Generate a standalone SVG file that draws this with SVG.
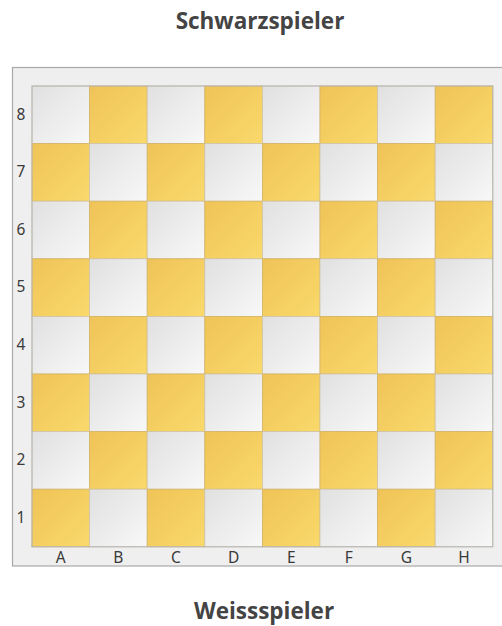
<svg xmlns="http://www.w3.org/2000/svg" width="502" height="626" viewBox="0 0 502 626">
<defs>
<linearGradient id="gl" x1="0" y1="0" x2="1" y2="1"><stop offset="0" stop-color="#e0e0e0"/><stop offset="1" stop-color="#f8f8f8"/></linearGradient>
<linearGradient id="gd" x1="0" y1="0" x2="1" y2="1"><stop offset="0" stop-color="#efc357"/><stop offset="1" stop-color="#fad96b"/></linearGradient>
</defs>
<style>
.t{font-family:"Open Sans","Noto Sans",sans-serif;font-weight:bold;font-size:22.5px;fill:#444;text-anchor:middle}
.l{fill:url(#gl);stroke:#cfc6a8;stroke-width:0.8}
.d{fill:url(#gd);stroke:#d4b466;stroke-width:0.8}
.c{font-family:"Noto Sans","Liberation Sans",sans-serif;font-size:15.5px;fill:#3a3a3a;text-anchor:middle}
</style>
<rect width="502" height="626" fill="#ffffff"/>
<g id="title-black"><text class="t" x="260" y="29">Schwarzspieler</text></g>
<g id="frame"><rect x="12.5" y="67.5" width="520" height="498.5" fill="#efefef" stroke="#a8a8a8" stroke-width="1.2"/></g>
<g id="board">
<rect class="l" x="32" y="86" width="57.6" height="57.6"/><rect class="d" x="89.6" y="86" width="57.6" height="57.6"/><rect class="l" x="147.2" y="86" width="57.6" height="57.6"/><rect class="d" x="204.8" y="86" width="57.6" height="57.6"/><rect class="l" x="262.4" y="86" width="57.6" height="57.6"/><rect class="d" x="320" y="86" width="57.6" height="57.6"/><rect class="l" x="377.6" y="86" width="57.6" height="57.6"/><rect class="d" x="435.2" y="86" width="57.6" height="57.6"/>
<rect class="d" x="32" y="143.6" width="57.6" height="57.6"/><rect class="l" x="89.6" y="143.6" width="57.6" height="57.6"/><rect class="d" x="147.2" y="143.6" width="57.6" height="57.6"/><rect class="l" x="204.8" y="143.6" width="57.6" height="57.6"/><rect class="d" x="262.4" y="143.6" width="57.6" height="57.6"/><rect class="l" x="320" y="143.6" width="57.6" height="57.6"/><rect class="d" x="377.6" y="143.6" width="57.6" height="57.6"/><rect class="l" x="435.2" y="143.6" width="57.6" height="57.6"/>
<rect class="l" x="32" y="201.2" width="57.6" height="57.6"/><rect class="d" x="89.6" y="201.2" width="57.6" height="57.6"/><rect class="l" x="147.2" y="201.2" width="57.6" height="57.6"/><rect class="d" x="204.8" y="201.2" width="57.6" height="57.6"/><rect class="l" x="262.4" y="201.2" width="57.6" height="57.6"/><rect class="d" x="320" y="201.2" width="57.6" height="57.6"/><rect class="l" x="377.6" y="201.2" width="57.6" height="57.6"/><rect class="d" x="435.2" y="201.2" width="57.6" height="57.6"/>
<rect class="d" x="32" y="258.8" width="57.6" height="57.6"/><rect class="l" x="89.6" y="258.8" width="57.6" height="57.6"/><rect class="d" x="147.2" y="258.8" width="57.6" height="57.6"/><rect class="l" x="204.8" y="258.8" width="57.6" height="57.6"/><rect class="d" x="262.4" y="258.8" width="57.6" height="57.6"/><rect class="l" x="320" y="258.8" width="57.6" height="57.6"/><rect class="d" x="377.6" y="258.8" width="57.6" height="57.6"/><rect class="l" x="435.2" y="258.8" width="57.6" height="57.6"/>
<rect class="l" x="32" y="316.4" width="57.6" height="57.6"/><rect class="d" x="89.6" y="316.4" width="57.6" height="57.6"/><rect class="l" x="147.2" y="316.4" width="57.6" height="57.6"/><rect class="d" x="204.8" y="316.4" width="57.6" height="57.6"/><rect class="l" x="262.4" y="316.4" width="57.6" height="57.6"/><rect class="d" x="320" y="316.4" width="57.6" height="57.6"/><rect class="l" x="377.6" y="316.4" width="57.6" height="57.6"/><rect class="d" x="435.2" y="316.4" width="57.6" height="57.6"/>
<rect class="d" x="32" y="374" width="57.6" height="57.6"/><rect class="l" x="89.6" y="374" width="57.6" height="57.6"/><rect class="d" x="147.2" y="374" width="57.6" height="57.6"/><rect class="l" x="204.8" y="374" width="57.6" height="57.6"/><rect class="d" x="262.4" y="374" width="57.6" height="57.6"/><rect class="l" x="320" y="374" width="57.6" height="57.6"/><rect class="d" x="377.6" y="374" width="57.6" height="57.6"/><rect class="l" x="435.2" y="374" width="57.6" height="57.6"/>
<rect class="l" x="32" y="431.6" width="57.6" height="57.6"/><rect class="d" x="89.6" y="431.6" width="57.6" height="57.6"/><rect class="l" x="147.2" y="431.6" width="57.6" height="57.6"/><rect class="d" x="204.8" y="431.6" width="57.6" height="57.6"/><rect class="l" x="262.4" y="431.6" width="57.6" height="57.6"/><rect class="d" x="320" y="431.6" width="57.6" height="57.6"/><rect class="l" x="377.6" y="431.6" width="57.6" height="57.6"/><rect class="d" x="435.2" y="431.6" width="57.6" height="57.6"/>
<rect class="d" x="32" y="489.2" width="57.6" height="57.6"/><rect class="l" x="89.6" y="489.2" width="57.6" height="57.6"/><rect class="d" x="147.2" y="489.2" width="57.6" height="57.6"/><rect class="l" x="204.8" y="489.2" width="57.6" height="57.6"/><rect class="d" x="262.4" y="489.2" width="57.6" height="57.6"/><rect class="l" x="320" y="489.2" width="57.6" height="57.6"/><rect class="d" x="377.6" y="489.2" width="57.6" height="57.6"/><rect class="l" x="435.2" y="489.2" width="57.6" height="57.6"/>
<rect x="32" y="86" width="460.8" height="460.8" fill="none" stroke="#b5b5b5" stroke-width="1"/>
</g>
<g id="ranks">
<text class="c" x="21" y="119.5">8</text><text class="c" x="21" y="177.1">7</text><text class="c" x="21" y="234.7">6</text><text class="c" x="21" y="292.3">5</text><text class="c" x="21" y="349.9">4</text><text class="c" x="21" y="407.5">3</text><text class="c" x="21" y="465.1">2</text><text class="c" x="21" y="522.7">1</text>
</g>
<g id="files">
<text class="c" x="60.8" y="563">A</text><text class="c" x="118.4" y="563">B</text><text class="c" x="176" y="563">C</text><text class="c" x="233.6" y="563">D</text><text class="c" x="291.2" y="563">E</text><text class="c" x="348.8" y="563">F</text><text class="c" x="406.4" y="563">G</text><text class="c" x="464" y="563">H</text>
</g>
<g id="title-white"><text class="t" x="264" y="619">Weissspieler</text></g>
</svg>
